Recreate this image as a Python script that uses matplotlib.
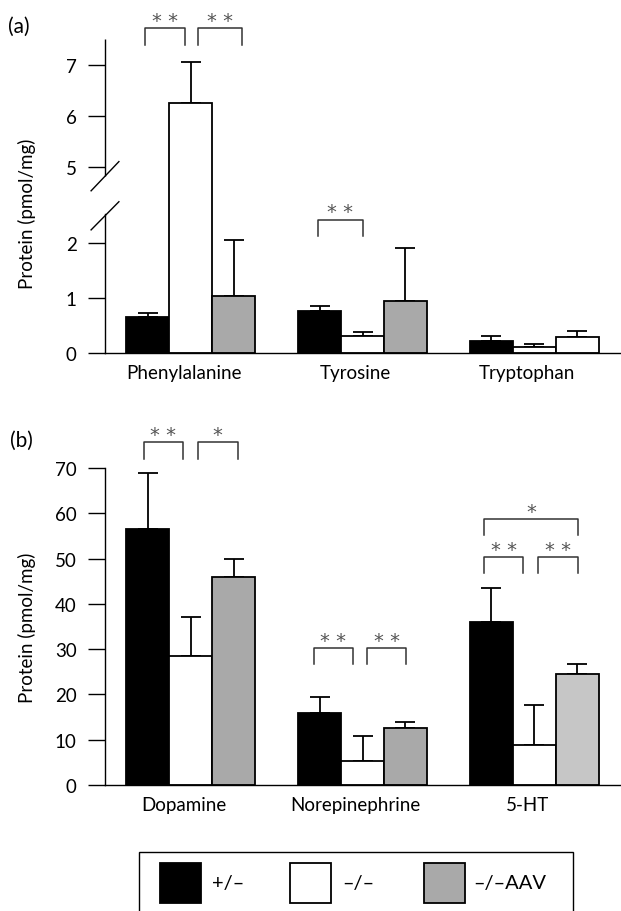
import numpy as np
import matplotlib
matplotlib.use("Agg")
import matplotlib.pyplot as plt
from matplotlib.patches import Rectangle

plt.rcParams['font.family'] = ['Lato', 'DejaVu Sans']

W, H = 621, 912

# ---- data -------------------------------------------------------------
groups_a = ["Phenylalanine", "Tyrosine", "Tryptophan"]
het_a = [0.65, 0.77, 0.21]
het_a_err = [0.08, 0.09, 0.10]
ko_a = [6.25, 0.31, 0.11]
ko_a_err = [0.80, 0.08, 0.05]
aav_a = [1.04, 0.95, 0.29]
aav_a_err = [1.06, 0.96, 0.11]

groups_b = ["Dopamine", "Norepinephrine", "5-HT"]
het_b = [56.5, 15.9, 36.0]
het_b_err = [12.4, 3.5, 7.5]
ko_b = [28.5, 5.3, 8.8]
ko_b_err = [8.6, 5.5, 8.9]
aav_b = [45.9, 12.6, 24.5]
aav_b_err = [4.0, 1.3, 2.2]

legend_labels = ["+/\u2013", "\u2013/\u2013", "\u2013/\u2013AAV"]

# significance brackets: (group, left offset, right offset, top, leg bottom, label)
sig_a = [(0, -0.267, -0.035, 7.71, 7.39, "* *"),
         (0, 0.040, 0.297, 7.71, 7.39, "* *"),
         (1, -0.262, 0.000, 2.91, 2.28, "* *")]
sig_b = [(0, -0.273, -0.047, 75.7, 72.0, "* *"),
         (0, 0.041, 0.273, 75.7, 72.0, "*"),
         (1, -0.285, -0.058, 30.2, 26.7, "* *"),
         (1, 0.029, 0.256, 30.2, 26.7, "* *"),
         (2, -0.290, -0.064, 50.3, 46.8, "* *"),
         (2, 0.023, 0.256, 50.3, 46.8, "* *"),
         (2, -0.290, 0.256, 58.7, 55.2, "*")]

FS = 13.5

# ---- broken y scale for panel (a) ------------------------------------
B1, B2 = 2.0, 5.0
G = (76 / 55) / 3
K = 51 / 55
U2 = B1 + (B2 - B1) * G


def fwd(y):
    y = np.asarray(y, float)
    return np.where(y <= B1, y, np.where(y <= B2, B1 + (y - B1) * G, U2 + (y - B2) * K))


def inv(u):
    u = np.asarray(u, float)
    return np.where(u <= B1, u, np.where(u <= U2, B1 + (u - B1) / G, B2 + (u - U2) / K))


def px_box(left, top, right, bottom):
    return [left / W, 1 - bottom / H, (right - left) / W, (bottom - top) / H]


fig = plt.figure(figsize=(W / 100, H / 100), dpi=100)
ax1 = fig.add_axes(px_box(105, 40, 620, 354))
ax2 = fig.add_axes(px_box(105, 469, 620, 786))

bw = 0.25
offs = [-bw, 0, bw]
face_a = [["black"] * 3, ["white"] * 3, ["#a9a9a9", "#a9a9a9", "white"]]
face_b = [["black"] * 3, ["white"] * 3, ["#a9a9a9", "#a9a9a9", "#c6c6c6"]]


def draw_panel(ax, groups, series, errs, faces, sigs):
    x = np.arange(len(groups))
    for vals, err, off, fc in zip(series, errs, offs, faces):
        ax.bar(x + off, vals, width=bw, color=fc, edgecolor="black", linewidth=1.3, zorder=2)
        ax.errorbar(x + off, vals, yerr=[np.zeros(len(vals)), err], fmt="none",
                    ecolor="black", elinewidth=1.3, capsize=7.5, capthick=1.3, zorder=1)
    for g, x0, x1, top, bot, lab in sigs:
        ax.plot([g + x0, g + x0, g + x1, g + x1], [bot, top, top, bot],
                color="#333333", lw=1.1, clip_on=False)
        ax.annotate(lab, ((g + (x0 + x1) / 2), top), xytext=(0, -1), textcoords="offset points",
                    ha="center", va="bottom", fontsize=14, color="#555555",
                    family="DejaVu Sans", annotation_clip=False)
    ax.set_xlim(-0.5, 2.5)
    ax.set_xticks(x - 0.04)
    ax.set_xticklabels(groups)
    ax.spines["top"].set_visible(False)
    ax.spines["right"].set_visible(False)
    for s in ("left", "bottom"):
        ax.spines[s].set_linewidth(1.0)
    ax.tick_params(axis="x", length=0, labelsize=FS, pad=8)
    ax.tick_params(axis="y", length=12.5, width=1.0, labelsize=FS, pad=8)
    ax.set_ylabel("Protein (pmol/mg)", fontsize=FS)


draw_panel(ax1, groups_a, [het_a, ko_a, aav_a], [het_a_err, ko_a_err, aav_a_err], face_a, sig_a)
ax1.set_yscale("function", functions=(fwd, inv))
ax1.set_ylim(0, 7.5)
ax1.set_yticks([0, 1, 2, 5, 6, 7])
ax1.set_yticklabels(["0", "1", "2", "5", "6", "7"])
ax1.spines["left"].set_bounds(0, 3.14)
ax1.vlines(-0.5, 4.64, 7.5, color="black", lw=1.0, clip_on=False)
ax1.plot([-0.581, -0.419], [4.05, 5.10], color="black", lw=1.0, clip_on=False)
ax1.plot([-0.581, -0.419], [2.51, 3.62], color="black", lw=1.0, clip_on=False)
ax1.yaxis.set_label_coords(-0.134, 0.446)

draw_panel(ax2, groups_b, [het_b, ko_b, aav_b], [het_b_err, ko_b_err, aav_b_err], face_b, sig_b)
ax2.set_ylim(0, 70)
ax2.set_yticks(range(0, 71, 10))
ax2.yaxis.set_label_coords(-0.134, 0.5)

fig.text(8 / W, 1 - 27 / H, "(a)", fontsize=15, va="center")
fig.text(10 / W, 1 - 441 / H, "(b)", fontsize=15, va="center")

# ---- legend box -------------------------------------------------------
def fx(p):
    return p / W


def fy(p):
    return 1 - p / H


fig.add_artist(Rectangle((fx(139), fy(930)), fx(573) - fx(139), fy(853) - fy(930),
                         transform=fig.transFigure, facecolor="none", edgecolor="black", lw=1.0))
sq_left = [160, 290, 424]
txt_left = [212, 342, 473]
sq_col = ["black", "white", "#a9a9a9"]
for sl, tl, c, lab in zip(sq_left, txt_left, sq_col, legend_labels):
    fig.add_artist(Rectangle((fx(sl), fy(904)), fx(sl + 41) - fx(sl), fy(864) - fy(904),
                             transform=fig.transFigure, facecolor=c, edgecolor="black", lw=1.3))
    fig.text(fx(tl), fy(884), lab, fontsize=14.5, va="center", ha="left")

fig.savefig("out.png", dpi=100)
